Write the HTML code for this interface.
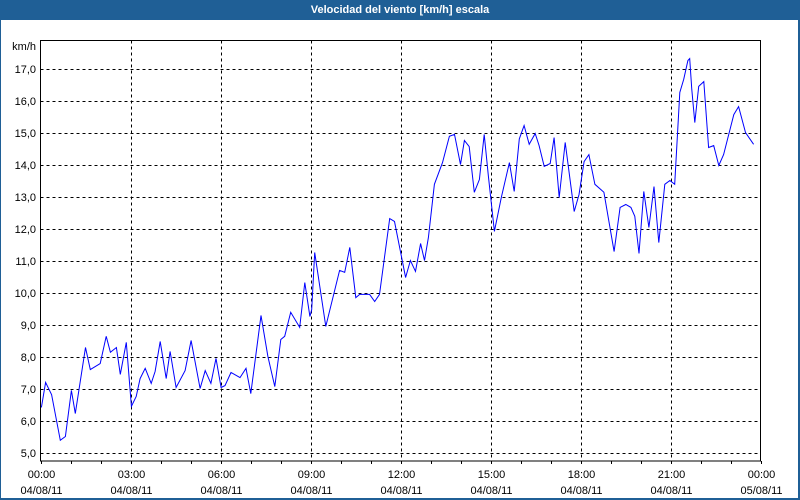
<!DOCTYPE html>
<html><head><meta charset="utf-8"><style>
html,body{margin:0;padding:0;background:#fff}
#wrap{position:relative;width:800px;height:500px;overflow:hidden;background:#fff;font-family:"Liberation Sans",sans-serif}
#title{position:absolute;left:0;top:0;width:800px;height:20px;background:#1f5f96;color:#fff;font-weight:bold;font-size:11px;line-height:20px;text-align:center}
#bl{position:absolute;left:0;top:20px;width:1px;height:480px;background:#1f5f96}
#br{position:absolute;right:0;top:20px;width:2px;height:480px;background:#1f5f96}
#bb{position:absolute;left:0;bottom:0;width:800px;height:2px;background:#1f5f96}
</style></head><body>
<div id="wrap">
<div id="title">Velocidad del viento [km/h] escala</div>
<div id="bl"></div>
<div id="br"></div>
<div id="bb"></div>
<svg id="svg" width="800" height="500" style="position:absolute;left:0;top:0"></svg>
</div>
<script>
const times=[
0.03,0.17,0.37,0.66,0.83,1.03,1.16,1.5,1.66,1.99,
2.19,2.33,2.53,2.66,2.86,3.03,3.19,3.32,3.49,3.69,
3.82,3.99,4.19,4.32,4.52,4.82,5.02,5.32,5.49,5.68,
5.85,6.02,6.15,6.35,6.65,6.85,7.01,7.35,7.58,7.81,
8.01,8.14,8.34,8.64,8.81,8.98,9.04,9.14,9.51,9.97,
10.14,10.31,10.51,10.64,10.97,11.14,11.3,11.64,11.8,12.17,
12.33,12.5,12.67,12.8,12.93,13.13,13.4,13.63,13.8,14.0,
14.13,14.29,14.46,14.63,14.79,14.93,15.13,15.36,15.63,15.79,
15.96,16.12,16.29,16.49,16.62,16.79,16.99,17.12,17.29,17.49,
17.79,17.95,18.12,18.28,18.48,18.78,19.12,19.32,19.51,19.68,
19.81,19.95,20.11,20.28,20.45,20.61,20.81,20.98,21.14,21.31,
21.44,21.58,21.64,21.71,21.81,21.94,22.11,22.27,22.44,22.61,
22.77,23.11,23.27,23.5,23.77];
const speeds=[
6.41,7.19,6.81,5.38,5.5,6.94,6.22,8.28,7.59,7.78,
8.63,8.13,8.28,7.44,8.44,6.44,6.75,7.31,7.63,7.16,
7.53,8.47,7.31,8.16,7.03,7.56,8.5,7.0,7.56,7.16,
7.94,7.03,7.09,7.5,7.34,7.63,6.84,9.28,8.0,7.06,
8.53,8.63,9.38,8.91,10.31,9.25,9.47,11.25,8.94,10.69,
10.63,11.41,9.84,9.94,9.94,9.72,9.94,12.31,12.22,10.47,
11.0,10.66,11.53,11.0,11.72,13.38,14.06,14.88,14.94,14.0,
14.75,14.56,13.13,13.53,14.94,13.63,11.91,12.97,14.06,13.16,
14.8,15.22,14.63,14.97,14.59,13.94,14.03,14.84,12.97,14.69,
12.53,13.06,14.09,14.31,13.38,13.13,11.28,12.66,12.75,12.66,
12.38,11.22,13.16,12.03,13.31,11.56,13.38,13.5,13.38,16.25,
16.66,17.25,17.31,16.34,15.31,16.44,16.59,14.53,14.59,13.97,
14.31,15.56,15.81,15.0,14.63];
const yTicks=[5,6,7,8,9,10,11,12,13,14,15,16,17];
const xTickLabels=["00:00","03:00","06:00","09:00","12:00","15:00","18:00","21:00","00:00"];
const dateLabels=["04/08/11","04/08/11","04/08/11","04/08/11","04/08/11","04/08/11","04/08/11","04/08/11","05/08/11"];
const L=40.5,R=760.5,T=40.5,B=461;
const xs=h=>L+h*(R-L)/24;
const ys=v=>452.5-(v-5)*32;
const svg=document.getElementById('svg');
const NS='http://www.w3.org/2000/svg';
function mk(t,a){const e=document.createElementNS(NS,t);for(const k in a)e.setAttribute(k,a[k]);svg.appendChild(e);return e;}
yTicks.forEach(v=>{
  const g=mk('line',{x1:L,x2:R,y1:Math.round(ys(v))+0.5,y2:Math.round(ys(v))+0.5,stroke:'#000','stroke-dasharray':'3,3'});
  
  
  const t=mk('text',{x:36,y:Math.round(ys(v))+4,'text-anchor':'end','font-size':'11','font-family':'Liberation Sans, sans-serif',fill:'#000'});
  t.textContent=v.toFixed(1).replace('.',',');
  
  
});
const u=mk('text',{x:36,y:50,'text-anchor':'end','font-size':'11','font-family':'Liberation Sans, sans-serif',fill:'#000'});
u.textContent='km/h';


xTickLabels.forEach((s,i)=>{
  const x=Math.round(xs(i*3))+0.5;
  if(i>0&&i<8){
    const g=mk('line',{x1:x,x2:x,y1:T,y2:B,stroke:'#000','stroke-dasharray':'3,3'});
    
    
  }
  const t=mk('text',{x:x,y:478,'text-anchor':'middle','font-size':'11','font-family':'Liberation Sans, sans-serif',fill:'#000'});
  t.textContent=s;
  
  
  const d=mk('text',{x:x,y:494,'text-anchor':'middle','font-size':'11','font-family':'Liberation Sans, sans-serif',fill:'#000'});
  d.textContent=dateLabels[i];
  
  
});
for(let h=0;h<=24;h++){
  const x=Math.round(xs(h))+0.5;
  const tk=mk('line',{x1:x,x2:x,y1:B,y2:B+3,stroke:'#000'});
  
  
}
const fr=mk('rect',{x:L,y:T,width:R-L,height:B-T,fill:'none',stroke:'#000'});


const n=Math.min(times.length,speeds.length);
const pts=[];
for(let i=0;i<n;i++)pts.push(xs(times[i]).toFixed(1)+','+ys(speeds[i]).toFixed(1));
const pl=mk('polyline',{points:pts.join(' '),fill:'none',stroke:'#0000ff','stroke-width':'1'});


</script>
</body></html>
